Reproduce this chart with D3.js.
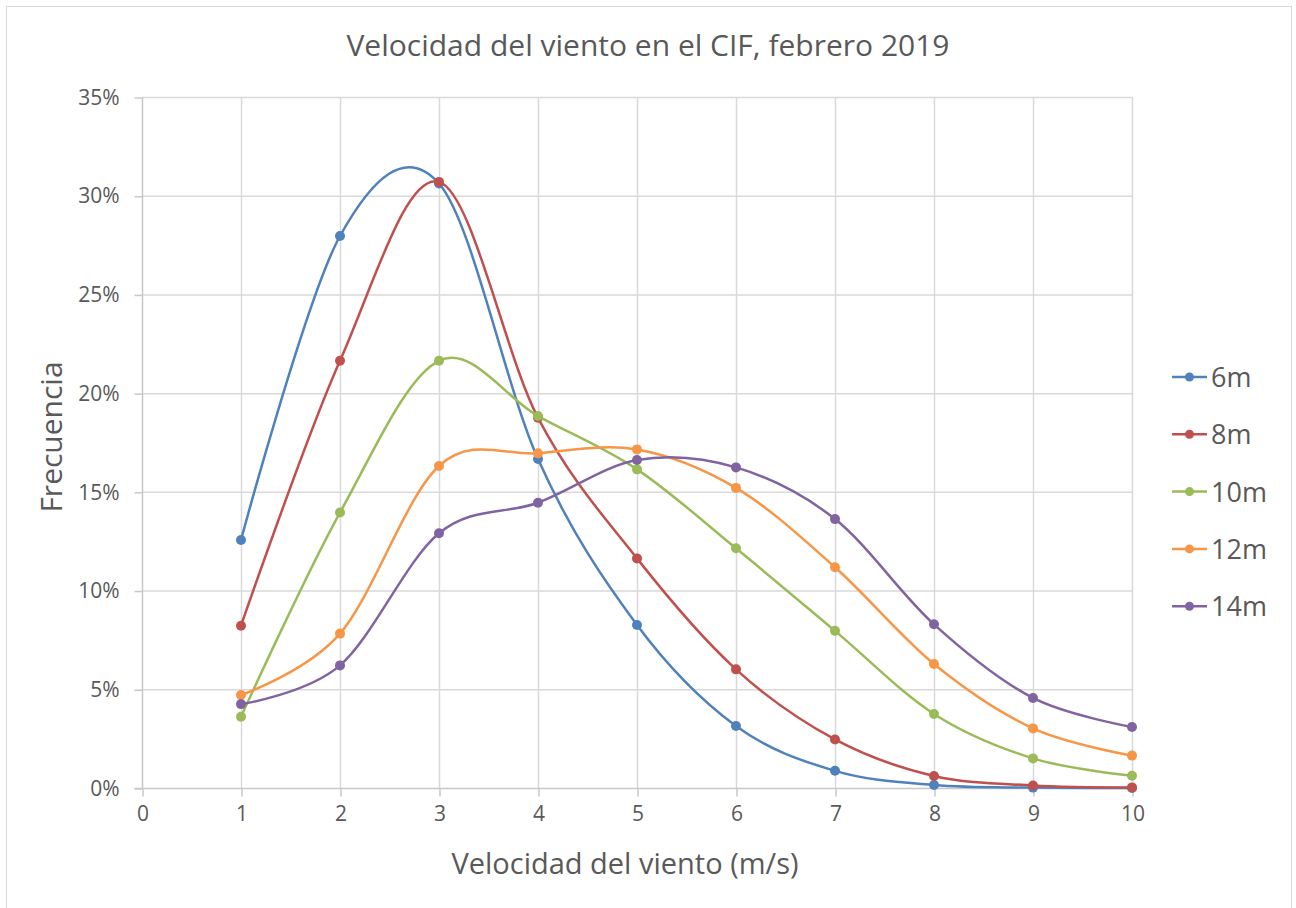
<!DOCTYPE html>
<html>
<head>
<meta charset="utf-8">
<script src="https://cdn.jsdelivr.net/npm/d3@7"></script>
<style>
  body { margin: 0; background: #fff; }
  text { font-family: "Open Sans", sans-serif; fill: #595959; }
</style>
</head>
<body>
<div id="chart"></div>
<script>
const speeds = [1, 2, 3, 4, 5, 6, 7, 8, 9, 10];
const seriesNames = ["6m", "8m", "10m", "12m", "14m"];
const v6m  = [12.56, 27.96, 30.62, 16.66, 8.26, 3.14, 0.87, 0.15, 0.02, 0.0];
const v8m  = [8.22, 21.64, 30.7, 18.75, 11.63, 6.01, 2.46, 0.61, 0.13, 0.03];
const v10m = [3.61, 13.95, 21.64, 18.84, 16.14, 12.14, 7.96, 3.75, 1.5, 0.62];
const v12m = [4.71, 7.82, 16.31, 16.95, 17.15, 15.2, 11.18, 6.28, 3.02, 1.64];
const v14m = [4.25, 6.21, 12.9, 14.45, 16.61, 16.24, 13.62, 8.29, 4.56, 3.09];
const xTicks = [0, 1, 2, 3, 4, 5, 6, 7, 8, 9, 10];
const yTicks = [0, 5, 10, 15, 20, 25, 30, 35];
const colors = ["#4F81BD", "#C0504D", "#9BBB59", "#F79646", "#8064A2"];

const W = 1296, H = 908;
const series = [v6m, v8m, v10m, v12m, v14m].map((vals, i) => ({
  name: seriesNames[i],
  color: colors[i],
  points: vals.map((v, j) => ({x: speeds[j], y: v}))
}));

const svg = d3.select("#chart").append("svg")
  .attr("width", W).attr("height", H);

// chart frame
svg.append("rect")
  .attr("x", 6.5).attr("y", 6.5)
  .attr("width", 1285).attr("height", 920)
  .attr("fill", "none").attr("stroke", "#d9d9d9");

const x = d3.scaleLinear().domain([0, 10]).range([142, 1132]);
const y = d3.scaleLinear().domain([0, 35]).range([788, 97]);

// gridlines
svg.append("g")
  .selectAll("line.h").data(yTicks.slice(1)).enter().append("line")
  .attr("x1", x(0)).attr("x2", x(10))
  .attr("y1", d => y(d) + 0.5).attr("y2", d => y(d) + 0.5)
  .attr("stroke", "#d9d9d9").attr("stroke-width", 1.5);
svg.append("g")
  .selectAll("line.v").data(xTicks.slice(1)).enter().append("line")
  .attr("x1", d => x(d) + 0.5).attr("x2", d => x(d) + 0.5)
  .attr("y1", y(35)).attr("y2", y(0))
  .attr("stroke", "#d9d9d9").attr("stroke-width", 1.5);

// axes
const xAxis = d3.axisBottom(x).tickValues(xTicks).tickSize(8).tickPadding(10);
const gx = svg.append("g").attr("transform", `translate(0.5,${y(0) + 0.5})`).call(xAxis);
const yAxis = d3.axisLeft(y).tickValues(yTicks).tickSize(8).tickPadding(15)
  .tickFormat(d => d + "%");
const gy = svg.append("g").attr("transform", `translate(${x(0) + 0.5},0.5)`).call(yAxis);

[gx, gy].forEach(g => {
  g.select(".domain").attr("stroke", "#c8c8c8").attr("stroke-width", 1.5);
  g.selectAll(".tick line").attr("stroke", "#c8c8c8").attr("stroke-width", 1.5);
  g.selectAll(".tick text")
    .style("font-family", "'Open Sans', sans-serif")
    .style("font-size", "21px")
    .attr("fill", "#595959");
});
gx.selectAll(".domain").attr("d", `M${x(0) - 8},0H${x(10)}`);
gy.selectAll(".domain").attr("d", `M0,${y(35)}V${y(0)}`);

// lines
const line = d3.line()
  .x(d => x(d.x)).y(d => y(d.y))
  .curve(d3.curveCatmullRom.alpha(0));

const gs = svg.append("g").selectAll("g").data(series).enter().append("g");
gs.append("path")
  .attr("d", d => line(d.points))
  .attr("fill", "none")
  .attr("stroke", d => d.color)
  .attr("stroke-width", 2.5);
gs.selectAll("circle").data(d => d.points.map(p => ({...p, color: d.color})))
  .enter().append("circle")
  .attr("cx", d => x(d.x)).attr("cy", d => y(d.y))
  .attr("r", 5)
  .attr("fill", d => d.color);

// title
svg.append("text")
  .attr("x", 648).attr("y", 56)
  .attr("text-anchor", "middle")
  .style("font-size", "30px")
  .text("Velocidad del viento en el CIF, febrero 2019");

// axis titles
svg.append("text")
  .attr("x", 625).attr("y", 874)
  .attr("text-anchor", "middle")
  .style("font-size", "29px")
  .text("Velocidad del viento (m/s)");
svg.append("text")
  .attr("transform", "translate(62,437) rotate(-90)")
  .attr("text-anchor", "middle")
  .style("font-size", "30px")
  .text("Frecuencia");

// legend
const legend = svg.append("g").selectAll("g").data(series).enter().append("g")
  .attr("transform", (d, i) => `translate(1172,${377 + i * 57.3})`);
legend.append("line")
  .attr("x1", 0).attr("x2", 35)
  .attr("stroke", d => d.color).attr("stroke-width", 2.5);
legend.append("circle")
  .attr("cx", 17.5).attr("r", 4.5)
  .attr("fill", d => d.color);
legend.append("text")
  .attr("x", 39).attr("y", 10)
  .style("font-size", "27px")
  .text(d => d.name);
</script>
</body>
</html>
